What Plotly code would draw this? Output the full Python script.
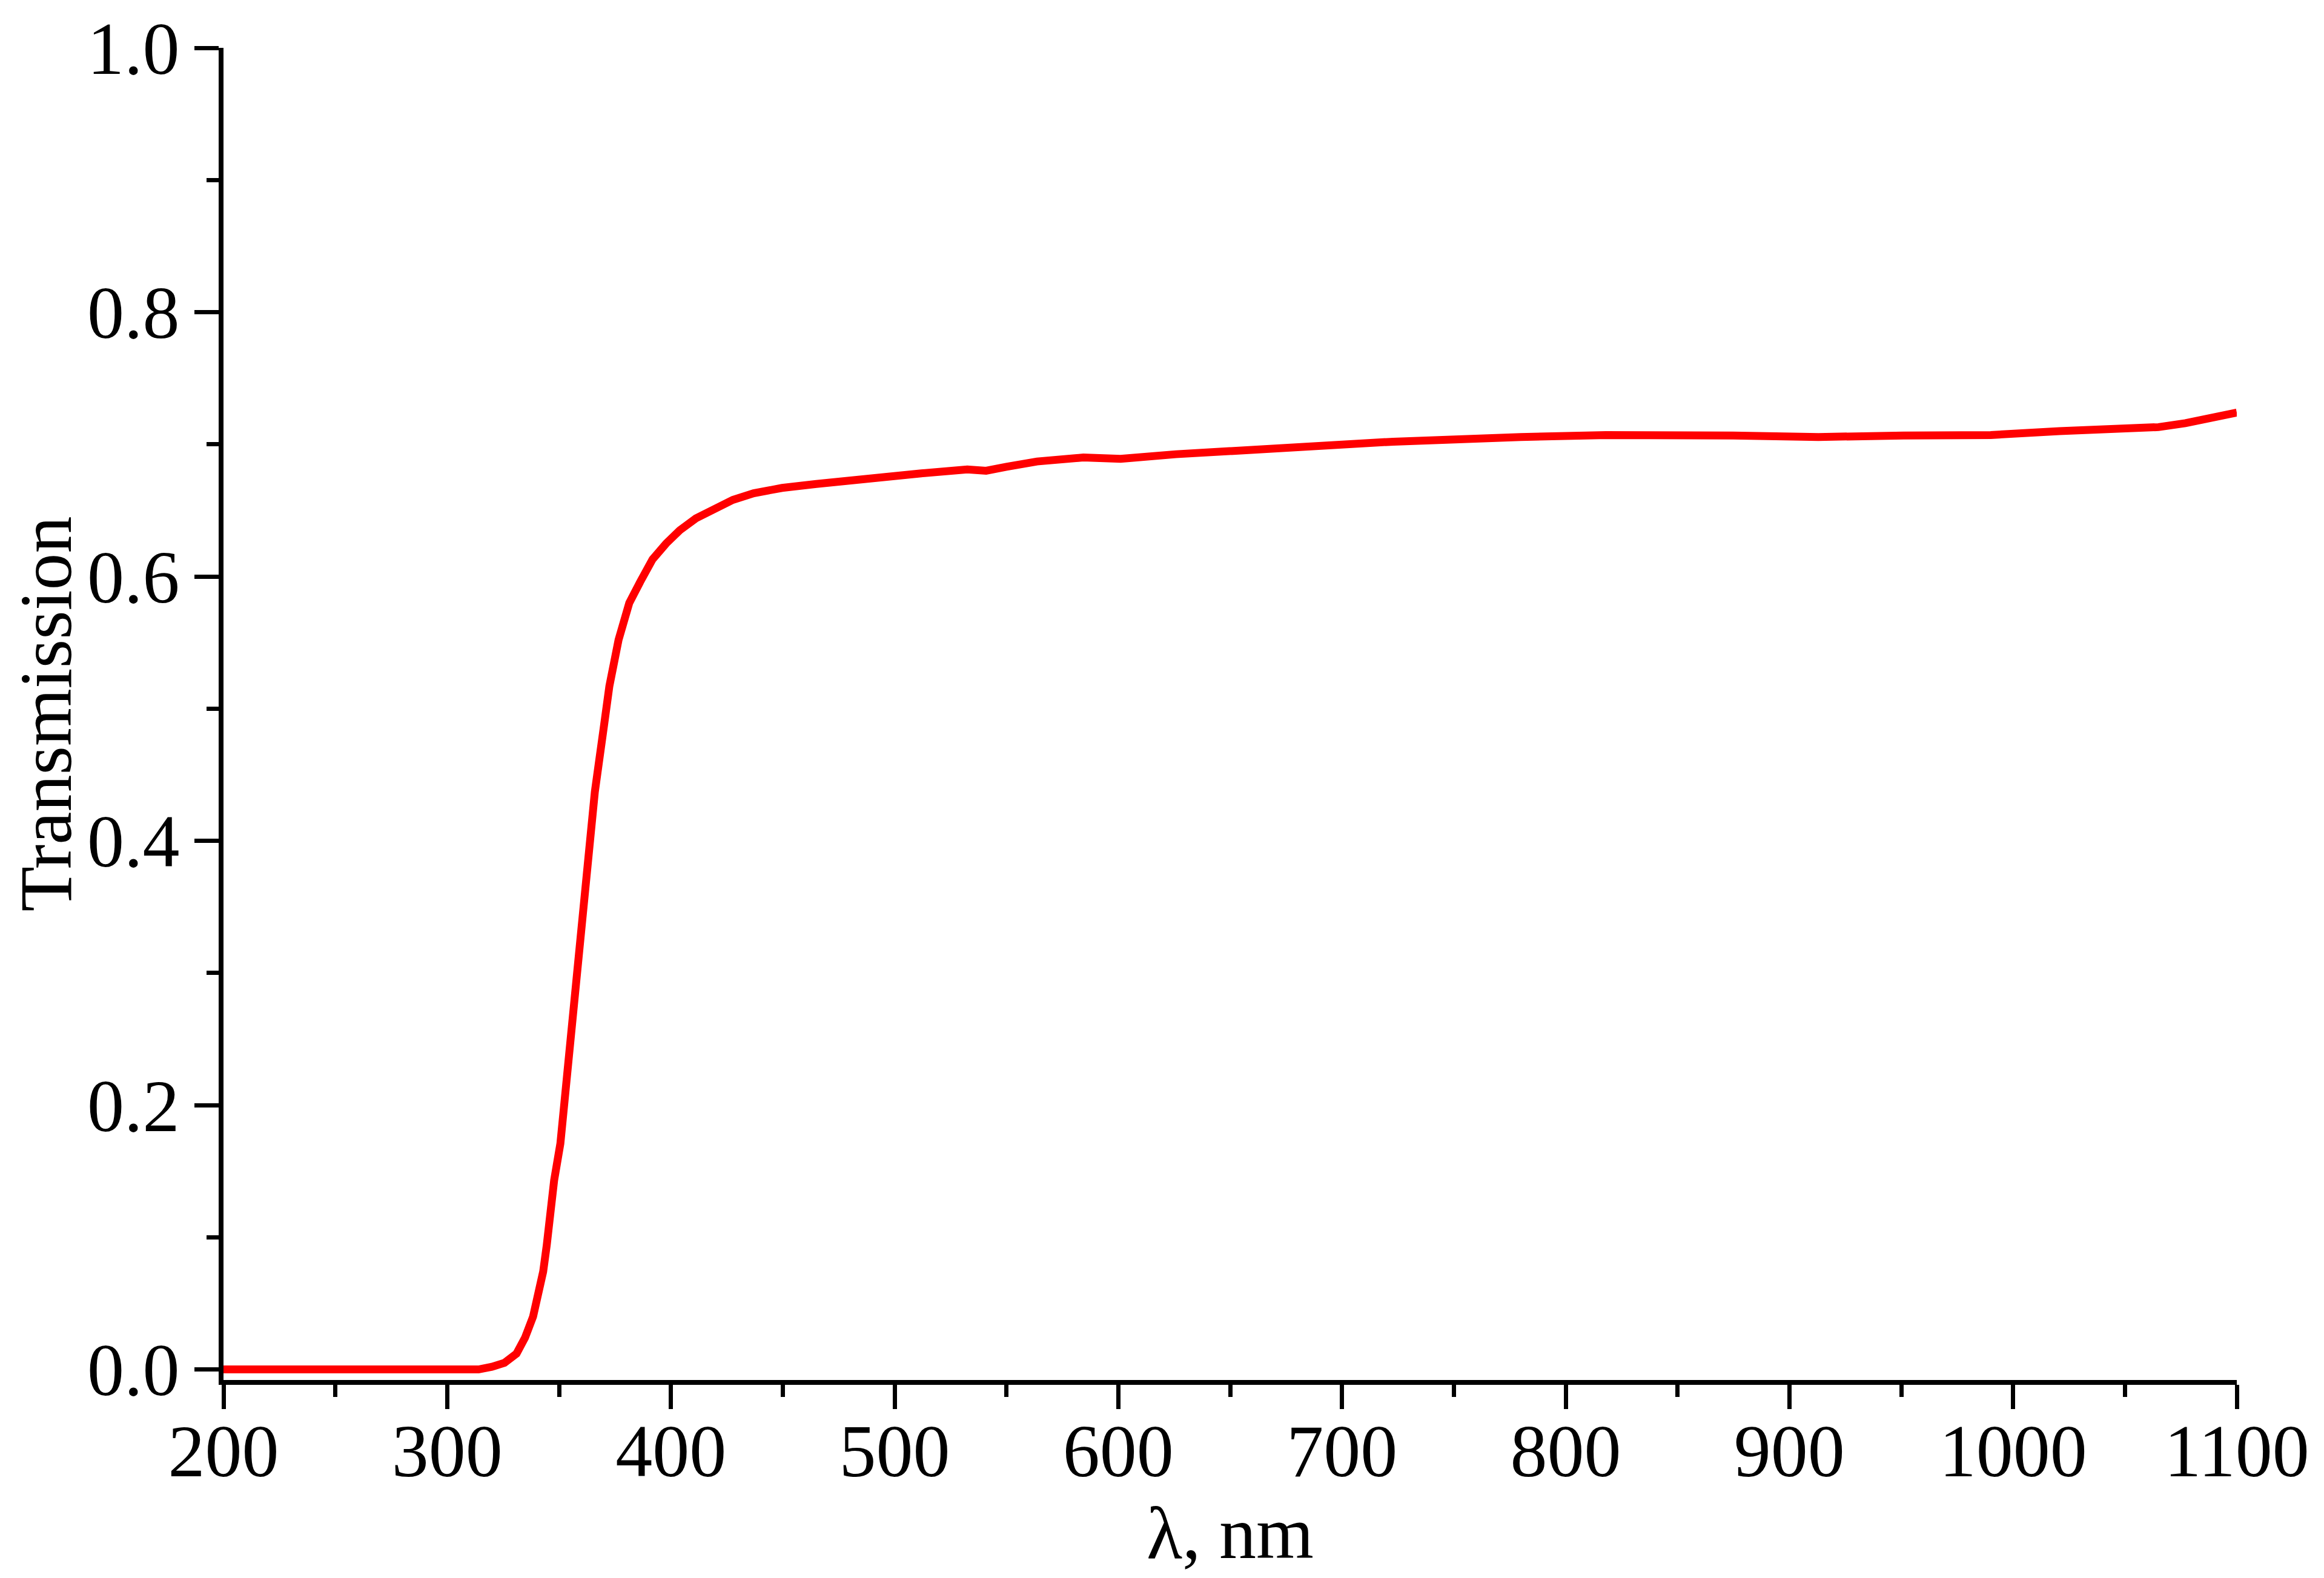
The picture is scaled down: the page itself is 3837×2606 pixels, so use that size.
import plotly.graph_objs as go

wavelength = [200, 250, 300, 314, 320, 325.6, 331, 334.8, 338.4, 341, 342.9, 344.5, 346, 347.8,
              350.6, 353.5, 356.4, 359.3, 362.2, 366, 370.0, 372.5, 376.6, 381.4, 386.3, 391.8,
              397.9, 404, 411.2, 418.7, 427.7, 437, 449.7, 465, 480.8, 495, 511.9, 532.5, 540.9,
              550, 563.7, 584.4, 601, 625.8, 656.9, 688, 722.9, 779.9, 818, 874.8, 913, 951,
              990, 1020.7, 1049, 1065, 1077, 1086, 1100]
transmission = [0.0, 0.0, 0.0, 0.0, 0.002, 0.005, 0.012, 0.024, 0.040, 0.060, 0.074, 0.094, 0.117, 0.143,
                0.171, 0.223, 0.276, 0.329, 0.381, 0.437, 0.486, 0.517, 0.552, 0.580, 0.596, 0.613,
                0.625, 0.635, 0.644, 0.651, 0.658, 0.663, 0.667, 0.670, 0.673, 0.675, 0.678, 0.681, 0.680,
                0.683, 0.687, 0.690, 0.689, 0.6925, 0.696, 0.699, 0.702, 0.7055, 0.707, 0.7067, 0.7055, 0.7067,
                0.707, 0.710, 0.711, 0.713, 0.716, 0.719, 0.724]

font_family = 'Liberation Serif'

fig = go.Figure(data=[
    go.Scatter(
        x=wavelength,
        y=transmission,
        mode='lines',
        line=dict(color='#ff0000', width=13),
        showlegend=False
    )
])

axis_common = dict(
    showgrid=False,
    zeroline=False,
    showline=True,
    linecolor='black',
    linewidth=8,
    ticks='outside',
    ticklen=40,
    tickwidth=7,
    tickcolor='black',
    automargin=False,
    tickfont=dict(family=font_family, size=122, color='black'),
)

# page body adds ~8px offset, so margins are shifted to compensate
fig.update_layout(
    width=3837,
    height=2606,
    margin=dict(l=361, r=152, t=71, b=335),
    plot_bgcolor='white',
    paper_bgcolor='white',
    xaxis=dict(
        range=[200, 1100],
        tick0=200,
        dtick=100,
        ticklabelstandoff=-35,
        minor=dict(dtick=50, ticklen=20, tickwidth=7, tickcolor='black', ticks='outside'),
        title=dict(text='λ, nm', font=dict(family=font_family, size=122, color='black'), standoff=18),
        **axis_common
    ),
    yaxis=dict(
        range=[-0.008, 1.0],
        tick0=0,
        dtick=0.2,
        tickformat='.1f',
        minor=dict(dtick=0.1, ticklen=20, tickwidth=7, tickcolor='black', ticks='outside'),
        title=dict(text='Transmission', font=dict(family=font_family, size=122, color='black'), standoff=30),
        **axis_common
    ),
)

fig.write_html("out.html")
